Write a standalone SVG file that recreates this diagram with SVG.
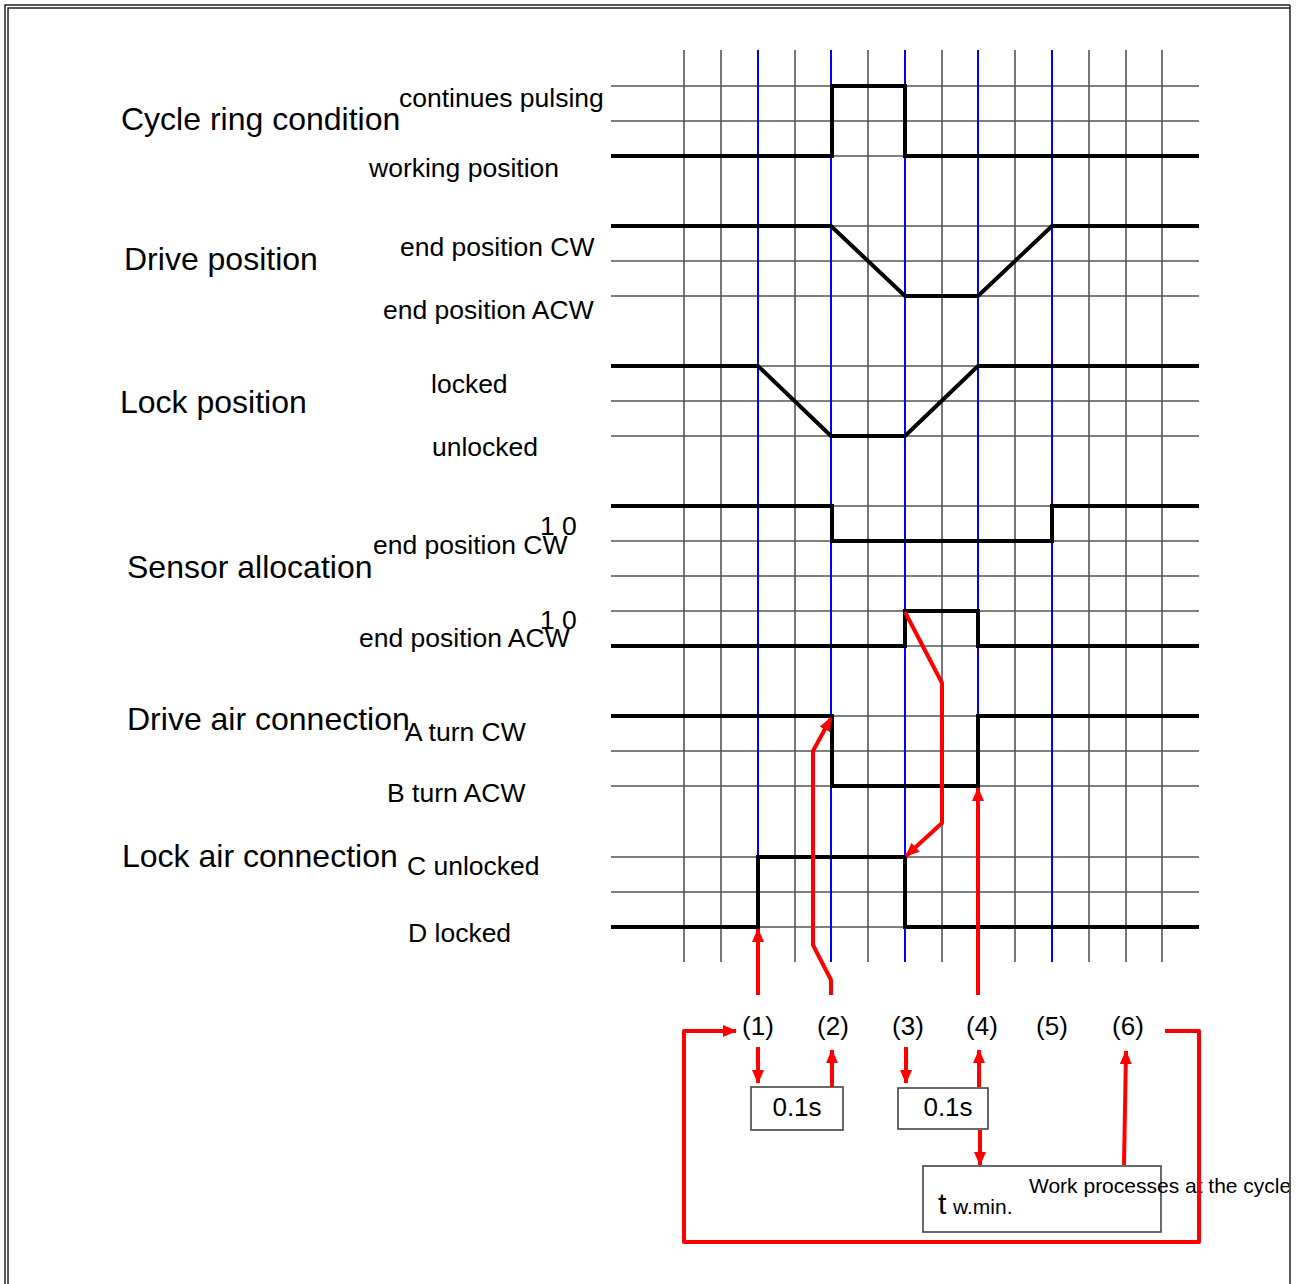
<svg xmlns="http://www.w3.org/2000/svg" width="1303" height="1284" viewBox="0 0 1303 1284">
<defs>
<style>
.lbl{font-family:"Liberation Sans",Arial,sans-serif;font-size:32px;fill:#000}
.sub{font-family:"Liberation Sans",Arial,sans-serif;font-size:26.5px;fill:#000}
.num{font-family:"Liberation Sans",Arial,sans-serif;font-size:26px;fill:#000}
.grid line{stroke:#555;stroke-width:1.6}
.hgrid line{stroke:#555;stroke-width:1.6}
.blue line{stroke:#0000ff;stroke-width:2}
.sig{fill:none;stroke:#000;stroke-width:4;stroke-linejoin:miter}
.red{fill:none;stroke:#ff0000;stroke-width:4;stroke-linejoin:round}
.box{fill:#fff;stroke:#444;stroke-width:1.6}
</style>
<marker id="ah" viewBox="0 0 14 12" refX="13" refY="6" markerWidth="14" markerHeight="12" markerUnits="userSpaceOnUse" orient="auto">
<path d="M0,0 L14,6 L0,12 Z" fill="#ff0000"/>
</marker>
<clipPath id="frameclip"><rect x="0" y="0" width="1289" height="1284"/></clipPath>
</defs>
<rect width="1303" height="1284" fill="#fff"/>
<g id="frame" fill="none">
<path d="M5,1284 V5 H1290" stroke="#222" stroke-width="1.5"/>
<path d="M8,1284 V8 H1290" stroke="#222" stroke-width="1.5"/>
<path d="M1290,5 V1284" stroke="#222" stroke-width="1.5"/>
</g>
<g id="hgrid" class="hgrid">
<line x1="611" y1="86" x2="1199" y2="86"/><line x1="611" y1="121" x2="1199" y2="121"/><line x1="611" y1="156" x2="1199" y2="156"/>
<line x1="611" y1="226" x2="1199" y2="226"/><line x1="611" y1="261" x2="1199" y2="261"/><line x1="611" y1="296" x2="1199" y2="296"/>
<line x1="611" y1="366" x2="1199" y2="366"/><line x1="611" y1="401" x2="1199" y2="401"/><line x1="611" y1="436" x2="1199" y2="436"/>
<line x1="611" y1="506" x2="1199" y2="506"/><line x1="611" y1="541" x2="1199" y2="541"/><line x1="611" y1="576" x2="1199" y2="576"/>
<line x1="611" y1="611" x2="1199" y2="611"/><line x1="611" y1="646" x2="1199" y2="646"/>
<line x1="611" y1="716" x2="1199" y2="716"/><line x1="611" y1="751" x2="1199" y2="751"/><line x1="611" y1="786" x2="1199" y2="786"/>
<line x1="611" y1="857" x2="1199" y2="857"/><line x1="611" y1="892" x2="1199" y2="892"/><line x1="611" y1="927" x2="1199" y2="927"/>
</g>
<g id="vgrid" class="grid">
<line x1="684" y1="50" x2="684" y2="962"/><line x1="721" y1="50" x2="721" y2="962"/><line x1="795" y1="50" x2="795" y2="962"/>
<line x1="868" y1="50" x2="868" y2="962"/><line x1="942" y1="50" x2="942" y2="962"/><line x1="1015" y1="50" x2="1015" y2="962"/>
<line x1="1089" y1="50" x2="1089" y2="962"/><line x1="1126" y1="50" x2="1126" y2="962"/><line x1="1162" y1="50" x2="1162" y2="962"/>
</g>
<g id="bluelines" class="blue">
<line x1="758" y1="50" x2="758" y2="962"/><line x1="831" y1="50" x2="831" y2="962"/><line x1="905" y1="50" x2="905" y2="962"/>
<line x1="978" y1="50" x2="978" y2="962"/><line x1="1052" y1="50" x2="1052" y2="962"/>
</g>
<g id="signals">
<path id="sig-cycle" class="sig" d="M611,156 H832 V86 H905 V156 H1199"/>
<path id="sig-drive" class="sig" d="M611,226 H831 L905,296 H978 L1052,226 H1199"/>
<path id="sig-lock" class="sig" d="M611,366 H758 L831,436 H905 L978,366 H1199"/>
<path id="sig-sensorcw" class="sig" d="M611,506 H832 V541 H1052 V506 H1199"/>
<path id="sig-sensoracw" class="sig" d="M611,646 H905 V611 H978 V646 H1199"/>
<path id="sig-driveair" class="sig" d="M611,716 H832 V786 H978 V716 H1199"/>
<path id="sig-lockair" class="sig" d="M611,927 H758 V857 H905 V927 H1199"/>
</g>
<g id="labels">
<text class="lbl" x="121" y="130">Cycle ring condition</text>
<text class="sub" x="399" y="107">continues pulsing</text>
<text class="sub" x="369" y="177">working position</text>
<text class="lbl" x="124" y="270">Drive position</text>
<text class="sub" x="400" y="256">end position CW</text>
<text class="sub" x="383" y="319">end position ACW</text>
<text class="lbl" x="120" y="413">Lock position</text>
<text class="sub" x="431" y="393">locked</text>
<text class="sub" x="432" y="456">unlocked</text>
<text class="lbl" x="127" y="578">Sensor allocation</text>
<text class="sub" x="373" y="554">end position CW</text>
<text class="sub" x="540" y="535">1 0</text>
<text class="sub" x="359" y="647">end position ACW</text>
<text class="sub" x="540" y="629">1 0</text>
<text class="lbl" x="127" y="730">Drive air connection</text>
<text class="sub" x="405" y="741">A turn CW</text>
<text class="sub" x="387" y="802">B turn ACW</text>
<text class="lbl" x="122" y="867">Lock air connection</text>
<text class="sub" x="407" y="875">C unlocked</text>
<text class="sub" x="408" y="942">D locked</text>
</g>
<g id="steps">
<text class="num" x="758" y="1035" text-anchor="middle">(1)</text>
<text class="num" x="833" y="1035" text-anchor="middle">(2)</text>
<text class="num" x="908" y="1035" text-anchor="middle">(3)</text>
<text class="num" x="982" y="1035" text-anchor="middle">(4)</text>
<text class="num" x="1052" y="1035" text-anchor="middle">(5)</text>
<text class="num" x="1128" y="1035" text-anchor="middle">(6)</text>
</g>
<g id="box1"><rect class="box" x="751" y="1087" width="92" height="43"/><text class="num" x="797" y="1116" text-anchor="middle">0.1s</text></g>
<g id="box2"><rect class="box" x="898" y="1088" width="90" height="41"/><text class="num" x="948" y="1116" text-anchor="middle">0.1s</text></g>
<g id="box3"><rect class="box" x="923" y="1166" width="238" height="66"/>
<text font-family="Liberation Sans, Arial, sans-serif" font-size="30" x="938" y="1214">t</text>
<text font-family="Liberation Sans, Arial, sans-serif" font-size="21" x="953" y="1214">w.min.</text>
<text font-family="Liberation Sans, Arial, sans-serif" font-size="21" x="1029" y="1193" clip-path="url(#frameclip)">Work processes at the cycle</text>
</g>
<g id="connectors" class="red">
<path d="M758,995 V929" marker-end="url(#ah)"/>
<path d="M831,995 V980 L813,945 V751 L831,718" marker-end="url(#ah)"/>
<path d="M905,612 L942,683 V823 L906,856" marker-end="url(#ah)"/>
<path d="M978,995 V788" marker-end="url(#ah)"/>
<path d="M758,1047 V1083" marker-end="url(#ah)"/>
<path d="M832,1087 V1050" marker-end="url(#ah)"/>
<path d="M906,1047 V1083" marker-end="url(#ah)"/>
<path d="M979,1087 V1050" marker-end="url(#ah)"/>
<path d="M980,1130 V1165" marker-end="url(#ah)"/>
<path d="M1124,1165 L1126,1051" marker-end="url(#ah)"/>
<path d="M1165,1031 H1199 V1242 H684 V1031 H736" marker-end="url(#ah)"/>
</g>
</svg>
